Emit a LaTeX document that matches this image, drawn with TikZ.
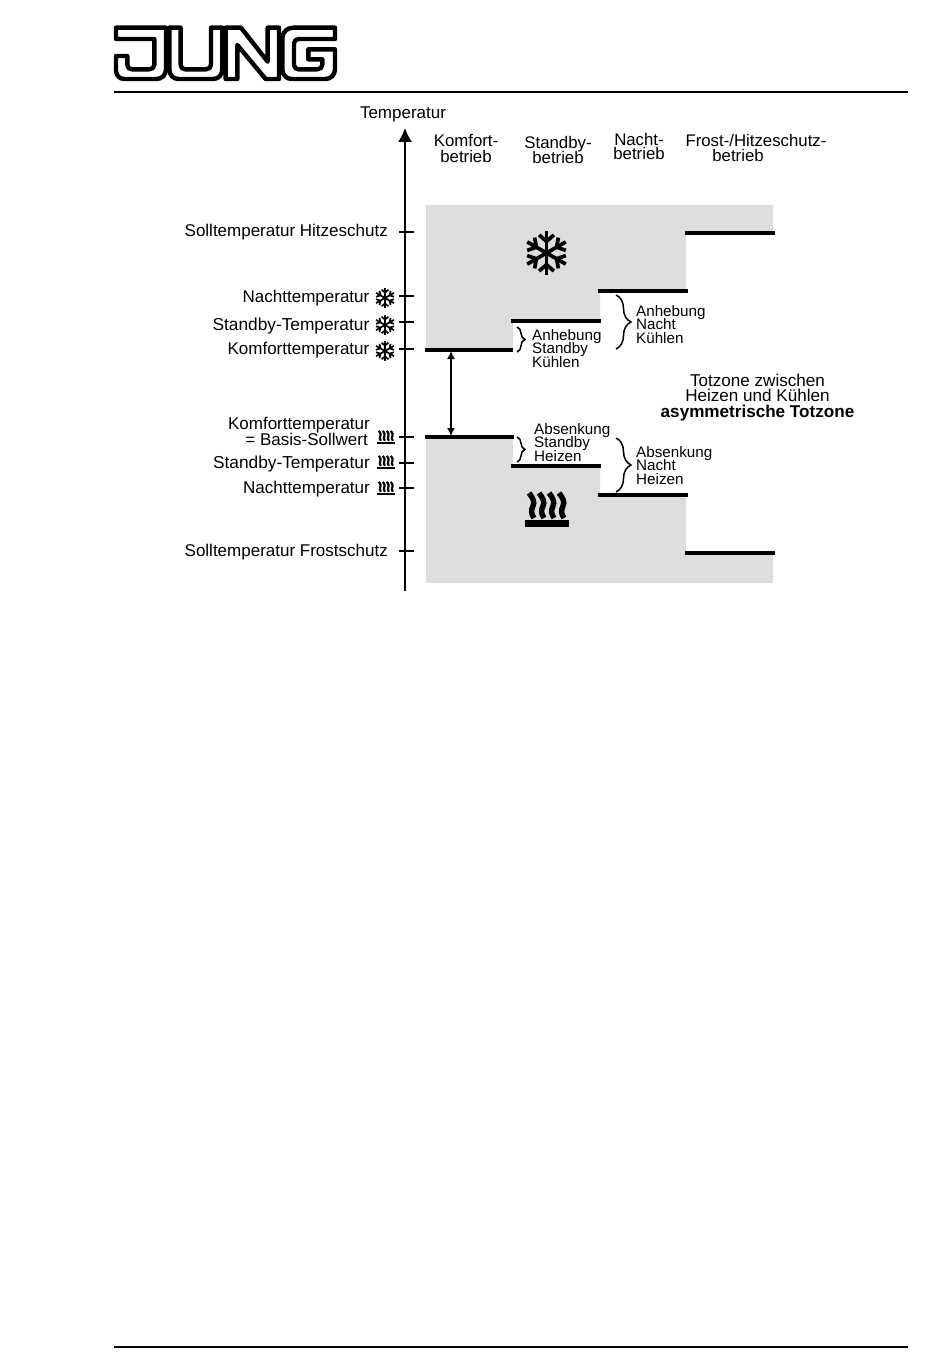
\documentclass[tikz,border=0pt]{standalone}
\usepackage{fontspec}
\setmainfont{Liberation Sans}
\usetikzlibrary{arrows.meta,decorations.pathreplacing}
\definecolor{zonegray}{HTML}{DCDDDD}
\newcommand{\tightlines}[2]{\fontsize{#1}{#2}\selectfont\setlength{\lineskiplimit}{-20pt}}
\begin{document}
\begin{tikzpicture}[x=1pt,y=-1pt,
    lbl/.style={inner sep=0pt,font=\tightlines{17}{16.4}},
    lblwide/.style={lbl,font=\tightlines{17.3}{16.4}},
    small/.style={inner sep=0pt,align=left,anchor=west,font=\tightlines{15.2}{13.2}},
    head/.style={inner sep=0pt,align=center,font=\tightlines{16.8}{#1}},
    level/.style={line width=3.2pt},
    tick/.style={line width=1.5pt},
    rule/.style={line width=2.8pt},
    logo/.style={line width=4.4pt,line join=round},
    curly/.style={line width=1.5pt,decorate,decoration={brace,amplitude=#1}},
    pics/snowicon/.style={code={
        \begin{scope}[scale=#1,line width=3.5*#1]
        \foreach \a in {0,60,...,300} {
            \draw[rotate=\a] (0,0) -- (0,-21);
            \draw[rotate=\a] (-7,-17) -- (0,-11) -- (7,-17);
        }
        \end{scope}}},
    pics/heaticon/.style={code={
        \begin{scope}[scale=#1]
        \foreach \x in {-15,-5,5,15}
            \draw[line width=5.4*#1] (\x-3,-13) .. controls (\x+1,-8) and (\x+3,-4) .. (\x+1,0)
                .. controls (\x-1,4) and (\x-1,8) .. (\x+2,12);
        \fill (-22,14) rectangle (22,21);
        \end{scope}}}]
    \useasboundingbox (0,0) rectangle (950,1370);

    % grey zones
    \fill[zonegray] (426,205) -| (773,233) -| (686,291) -| (600,321) -| (513,350) -| cycle;
    \fill[zonegray] (426,437) -| (513,466) -| (600,495) -| (686,553) -| (773,583) -| cycle;

    % logo
    \begin{scope}[shift={(100,10)},x=0.3333pt,y=-0.3333pt,logo]
        \draw (48,53) -- (198,53) -- (198,178) .. controls (198,195) and (185,207) .. (170,207) -- (72,207)
            .. controls (58,207) and (48,195) .. (48,182) -- (48,138) -- (82,138) -- (82,165)
            .. controls (82,173) and (88,178) .. (96,178) -- (148,178) .. controls (157,178) and (163,172) .. (163,164)
            -- (163,87) -- (48,87) -- cycle;
        \draw (208,53) -- (242,53) -- (242,165) .. controls (242,173) and (248,178) .. (256,178) -- (318,178)
            .. controls (327,178) and (333,172) .. (333,164) -- (333,53) -- (367,53) -- (367,178)
            .. controls (367,195) and (355,207) .. (340,207) -- (235,207) .. controls (220,207) and (208,195) .. (208,178) -- cycle;
        \draw (377,53) -- (423,53) -- (503,155) -- (503,53) -- (537,53) -- (537,207) -- (497,207)
            -- (412,105) -- (412,207) -- (377,207) -- cycle;
        \draw (580,53) -- (705,53) -- (705,87) -- (597,87) .. controls (590,87) and (582,92) .. (582,100) -- (582,165)
            .. controls (582,173) and (588,178) .. (596,178) -- (652,178) .. controls (661,178) and (667,172) .. (667,164)
            -- (667,148) -- (625,148) -- (625,118) -- (705,118) -- (705,178) .. controls (705,195) and (692,207) .. (677,207)
            -- (575,207) .. controls (560,207) and (547,195) .. (547,178) -- (547,85) .. controls (547,68) and (560,53) .. (580,53) -- cycle;
    \end{scope}
    \coordinate (topa) at (114,92);
    \coordinate (topb) at (908,92);
    \coordinate (bota) at (114,1347);
    \coordinate (botb) at (908,1347);
    \draw[rule] (topa) -- (topb);
    \draw[rule] (bota) -- (botb);

    % axis
    \coordinate (axis0) at (405,591);
    \coordinate (axis1) at (405,128);
    \draw[line width=1.5pt,-{Latex[length=14pt,width=14pt]}] (axis0) -- (axis1);
    \node[lbl] (temp) at (403,114) {Temperatur};
    \foreach \y in {232,296,322,349,437,463,488,551}
        \draw[tick] (399,\y) -- (414,\y);

    % column heads
    \node[head=16] (hk) at (466,148.500) {Komfort-\\betrieb};
    \node[head=15] (hs) at (558,149.500) {Standby-\\betrieb};
    \node[head=14.500] (hn) at (639,146.500) {Nacht-\\betrieb};
    \node[head=15] (hf) at (756,148) {Frost-/Hitzeschutz-\\betrieb\hspace*{36pt}};

    % left labels
    \node[lbl,anchor=east] (l1) at (388,232.500) {Solltemperatur Hitzeschutz};
    \node[lbl,anchor=east] (l2) at (369.500,298.500) {Nachttemperatur};
    \node[lblwide,anchor=east] (l3) at (369.500,326.500) {Standby-Temperatur};
    \node[lbl,anchor=east] (l4) at (369.500,350) {Komforttemperatur};
    \node[lbl,anchor=east,align=right] (l5) at (370,431.500) {Komforttemperatur\\= Basis-Sollwert\hspace*{2pt}};
    \node[lblwide,anchor=east] (l6) at (370,464.500) {Standby-Temperatur};
    \node[lbl,anchor=east] (l7) at (370,489.500) {Nachttemperatur};
    \node[lbl,anchor=east] (l8) at (388,552.500) {Solltemperatur Frostschutz};

    % icons
    \pic (sn1) at (385,298) {snowicon=0.49};
    \pic (sn2) at (385,325) {snowicon=0.49};
    \pic (sn3) at (385,351) {snowicon=0.49};
    \pic (sn0) at (546.500,253) {snowicon=1.06};
    \pic (ht1) at (386,436) {heaticon=0.4};
    \pic (ht2) at (386,461) {heaticon=0.4};
    \pic (ht3) at (386,487) {heaticon=0.4};
    \pic (ht0) at (547,506) {heaticon=1};

    % setpoint levels
    \foreach \name/\xa/\xb/\y in {kc/425/513/350,sc/511/601/321,nc/598/688/291,fc/685/775/233,
                                  kh/425/514/437,sh/511/601/466,nh/598/688/495,fh/685/775/553} {
        \coordinate (\name a) at (\xa,\y);
        \coordinate (\name b) at (\xb,\y);
        \draw[level] (\name a) -- (\name b);
    }

    % dead zone arrow
    \coordinate (dz1) at (451,351);
    \coordinate (dz2) at (451,436);
    \draw[line width=1.2pt,{Latex[length=8pt,width=8pt]}-{Latex[length=8pt,width=8pt]}] (dz1) -- (dz2);

    % braces
    \coordinate (b1a) at (517,327);
    \coordinate (b1b) at (517,352);
    \coordinate (b2a) at (616,295);
    \coordinate (b2b) at (616,349);
    \coordinate (b3a) at (517,437);
    \coordinate (b3b) at (517,462);
    \coordinate (b4a) at (616,438);
    \coordinate (b4b) at (616,492);
    \draw[curly=8pt] (b1a) -- (b1b);
    \draw[curly=15pt] (b2a) -- (b2b);
    \draw[curly=8pt] (b3a) -- (b3b);
    \draw[curly=15pt] (b4a) -- (b4b);

    \node[small] (t1) at (532,348.500) {Anhebung\\Standby\\Kühlen};
    \node[small] (t2) at (636,324.500) {Anhebung\\Nacht\\Kühlen};
    \node[small] (t3) at (534,442.500) {Absenkung\\Standby\\Heizen};
    \node[small] (t4) at (636,465.500) {Absenkung\\Nacht\\Heizen};

    \node[inner sep=0pt,align=center,font=\tightlines{17.1}{15.500}] (tz) at (757.500,397.500) {Totzone zwischen\\Heizen und Kühlen\\\textbf{asymmetrische Totzone}};
\end{tikzpicture}
\end{document}
